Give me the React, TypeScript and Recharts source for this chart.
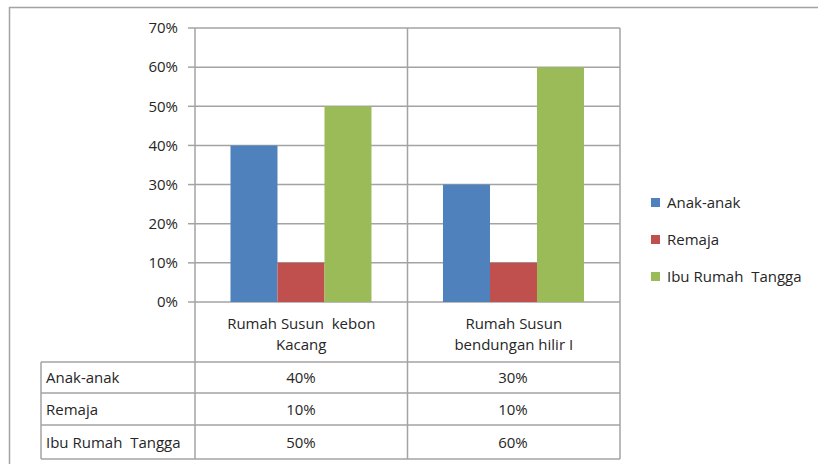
import { Bar, BarChart, CartesianGrid, XAxis, YAxis } from 'recharts'

const categories = ['Rumah Susun  kebon Kacang', 'Rumah Susun bendungan hilir I']
const categoryLines = [
  ['Rumah Susun  kebon', 'Kacang'],
  ['Rumah Susun', 'bendungan hilir I'],
]
const anakAnak = [40, 30]
const remaja = [10, 10]
const ibuRumahTangga = [50, 60]
const yTicks = [0, 10, 20, 30, 40, 50, 60, 70]

const series = [
  { key: 'anak', name: 'Anak-anak', color: '#4F81BD', values: anakAnak },
  { key: 'remaja', name: 'Remaja', color: '#C0504D', values: remaja },
  { key: 'ibu', name: 'Ibu Rumah  Tangga', color: '#9BBB59', values: ibuRumahTangga },
]

const data = categories.map((c, i) => ({
  name: c,
  anak: anakAnak[i],
  remaja: remaja[i],
  ibu: ibuRumahTangga[i],
}))

const FONT = '"Open Sans", sans-serif'
const GRID = '#a3a3a3'
const TEXT = '#262626'
const FS = 15

function CategoryTick(props: any) {
  const { x, payload } = props
  const lines = categoryLines[payload.index] ?? [payload.value]
  return (
    <g>
      {lines.map((l, i) => (
        <text
          key={i}
          x={x}
          y={323 + i * 21}
          textAnchor='middle'
          dominantBaseline='central'
          fontSize={FS}
          fill={TEXT}
          fontFamily={FONT}
          style={{ whiteSpace: 'pre' }}
        >
          {l}
        </text>
      ))}
    </g>
  )
}

const colCenters = [301, 513]
const rowMid = [377, 409, 442]

export default function App() {
  return (
    <div style={{ position: 'absolute', left: 0, top: 0, width: 818, height: 464, background: '#fff' }}>
      <BarChart
        width={818}
        height={464}
        data={data}
        margin={{ top: 28, right: 198, left: 0, bottom: 0 }}
        barCategoryGap='16.7%'
        barGap={0}
      >
        <CartesianGrid vertical={false} stroke={GRID} strokeWidth={1.5} />
        <XAxis
          dataKey='name'
          height={162}
          axisLine={false}
          tickLine={false}
          tick={<CategoryTick />}
          interval={0}
        />
        <YAxis
          width={195}
          domain={[0, 70]}
          ticks={yTicks}
          tickFormatter={(v) => `${v}%`}
          axisLine={{ stroke: GRID, strokeWidth: 1.5 }}
          tickLine={{ stroke: GRID, strokeWidth: 1.5 }}
          tickSize={7}
          tickMargin={10}
          tick={{ fontSize: FS, fill: TEXT, fontFamily: FONT }}
        />
        {series.map((s) => (
          <Bar key={s.key} dataKey={s.key} name={s.name} fill={s.color} isAnimationActive={false} />
        ))}
      </BarChart>
      <div
        style={{ position: 'absolute', left: 651, top: 190, fontFamily: FONT, fontSize: FS, color: TEXT }}
      >
        {series.map((s, i) => (
          <div
            key={s.key}
            style={{ position: 'absolute', top: i * 37, left: 0, display: 'flex', alignItems: 'center', whiteSpace: 'pre', height: 24 }}
          >
            <span style={{ width: 9, height: 9, background: s.color, display: 'inline-block', marginRight: 7 }} />
            <span>{s.name}</span>
          </div>
        ))}
      </div>
      <svg
        width={818}
        height={464}
        style={{ position: 'absolute', left: 0, top: 0, pointerEvents: 'none' }}
      >
        <g stroke={GRID} strokeWidth={1.5} fill='none'>
          <line x1={9} y1={7.5} x2={818} y2={7.5} />
          <line x1={9.5} y1={7} x2={9.5} y2={464} />
          <line x1={407.5} y1={28} x2={407.5} y2={459} />
          <line x1={620} y1={28} x2={620} y2={459} />
          <line x1={195} y1={302} x2={195} y2={459} />
          <line x1={41} y1={362} x2={41} y2={459} />
          {[362, 393, 425, 459].map((y) => (
            <line key={y} x1={41} y1={y} x2={620} y2={y} />
          ))}
        </g>
        <g fontFamily={FONT} fontSize={FS} fill={TEXT}>
          {series.map((s, r) => (
            <g key={s.key}>
              <text x={46} y={rowMid[r]} dominantBaseline='central' style={{ whiteSpace: 'pre' }}>
                {s.name}
              </text>
              {s.values.map((v, c) => (
                <text key={c} x={colCenters[c]} y={rowMid[r]} textAnchor='middle' dominantBaseline='central'>
                  {`${v}%`}
                </text>
              ))}
            </g>
          ))}
        </g>
      </svg>
    </div>
  )
}
